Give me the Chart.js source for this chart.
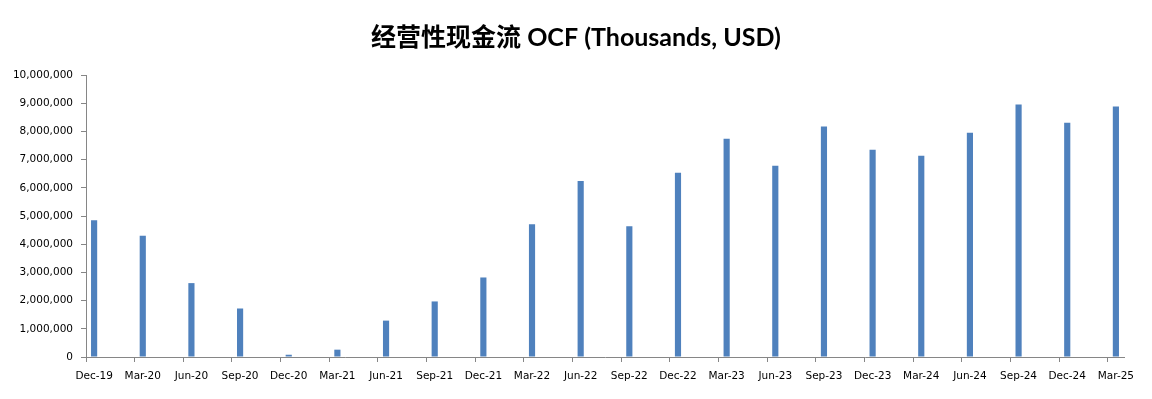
<!DOCTYPE html>
<html>
<head>
<meta charset="utf-8">
<script src="https://cdn.jsdelivr.net/npm/chart.js@4/dist/chart.umd.min.js"></script>
<style>
  html, body { margin: 0; padding: 0; background: #fff; }
  #wrap { width: 1152px; height: 399px; }
</style>
</head>
<body>
<div id="wrap"><canvas id="ocfChart" width="1152" height="399"></canvas></div>
<script>
// quarter ends shown on the axis
const quarters = [
  'Dec-19', 'Mar-20', 'Jun-20', 'Sep-20', 'Dec-20', 'Mar-21', 'Jun-21', 'Sep-21',
  'Dec-21', 'Mar-22', 'Jun-22', 'Sep-22', 'Dec-22', 'Mar-23', 'Jun-23', 'Sep-23',
  'Dec-23', 'Mar-24', 'Jun-24', 'Sep-24', 'Dec-24', 'Mar-25'
]
// operating cash flow, thousands USD
const ocfValues = [
  4850000, 4300000, 2620000, 1720000, 80000, 260000, 1290000, 1970000,
  2820000, 4710000, 6240000, 4640000, 6530000, 7740000, 6780000, 8170000,
  7350000, 7140000, 7950000, 8950000, 8310000, 8880000
]
const yTicksMax = 10000000
const yTicksStep = 1000000

// the original uses a monthly date axis, so every quarter sits in a one-month slot
let monthLabels = []
let monthValues = []
quarters.forEach((q, i) => {
  monthLabels.push(q)
  monthValues.push(ocfValues[i])
  if (i < quarters.length - 1) {
    monthLabels.push('', '')
    monthValues.push(null, null)
  }
})

const axisGrey = '#868686'

new Chart(document.getElementById('ocfChart'), {
  type: 'bar',
  data: {
    labels: monthLabels,
    datasets: [{
      label: 'OCF',
      data: monthValues,
      backgroundColor: '#4F81BD',
      borderWidth: 0,
      categoryPercentage: 1,
      barPercentage: 0.38
    }]
  },
  options: {
    responsive: false,
    animation: false,
    // symmetric side padding keeps the title centred on the whole picture
    layout: { padding: { left: 14, right: 14, top: 0, bottom: 0 } },
    plugins: {
      legend: { display: false },
      tooltip: { enabled: false },
      title: {
        display: true,
        text: '经营性现金流 OCF (Thousands, USD)',
        color: '#000',
        font: { family: "Lato, 'Noto Sans CJK SC'", size: 25, weight: 'bold' },
        padding: { top: 23, bottom: 22 }
      }
    },
    scales: {
      x: {
        offset: true,
        afterFit: (scale) => { scale.height = 42 },
        border: { color: axisGrey, width: 1 },
        grid: {
          offset: true,
          drawOnChartArea: false,
          tickLength: 5,
          color: (ctx) => (ctx.index % 3 === 0 ? axisGrey : 'rgba(0,0,0,0)')
        },
        ticks: {
          autoSkip: false,
          maxRotation: 0,
          minRotation: 0,
          padding: 8,
          color: '#000',
          font: { family: 'DejaVu Sans', size: 10.5 }
        }
      },
      y: {
        min: 0,
        max: yTicksMax,
        afterFit: (scale) => { scale.width = 72 },
        border: { color: axisGrey, width: 1 },
        grid: {
          drawOnChartArea: false,
          tickLength: 5,
          color: axisGrey
        },
        ticks: {
          stepSize: yTicksStep,
          padding: 8,
          color: '#000',
          font: { family: 'DejaVu Sans', size: 10.5 },
          callback: (value) => value.toLocaleString('en-US')
        }
      },
      // empty strip on the right so the plot ends where the original does
      spacer: {
        position: 'right',
        min: 0,
        max: 1,
        afterFit: (scale) => { scale.width = 14 },
        border: { display: false },
        grid: { display: false },
        ticks: { display: false }
      }
    }
  }
})
</script>
</body>
</html>
